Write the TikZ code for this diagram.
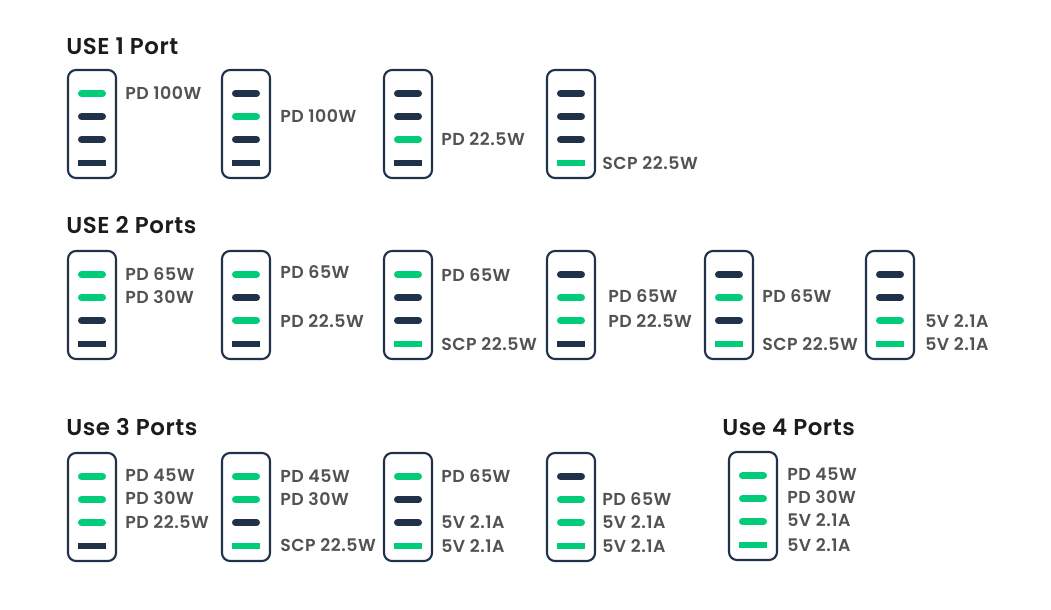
\documentclass[tikz,border=0pt]{standalone}
\usepackage{fontspec}
\setmainfont{Poppins}[BoldFont={* SemiBold}]
\definecolor{navy}{HTML}{1F3249}
\definecolor{grn}{HTML}{00CC7A}
\definecolor{lbl}{HTML}{525252}
\definecolor{ttl}{HTML}{1C1C1C}
\tikzset{
  box/.style={draw=navy,line width=1.6pt,rounded corners=6pt,minimum width=36pt,minimum height=81pt,inner sep=0pt},
  pill/.style={fill=#1,rounded corners=2.6pt,minimum width=21pt,minimum height=5.2pt,inner sep=0pt},
  slot/.style={fill=#1,minimum width=21pt,minimum height=5.2pt,inner sep=0pt},
  lab/.style={anchor=west,inner sep=0pt,text=lbl,font=\bfseries\addfontfeatures{LetterSpace=3}\fontsize{13pt}{15pt}\selectfont},
  ttlst/.style={anchor=west,inner sep=0pt,text=ttl,font=\bfseries\addfontfeatures{LetterSpace=2.5}\fontsize{17.2pt}{20pt}\selectfont},
}
% name, left x, top y, colours of bars 1..4
\newcommand{\chg}[7]{%
  \node[box] (#1) at (#2+24,#3+54) {};
  \node[pill=#4] (#1-1) at (#2+24,#3+23.5) {};
  \node[pill=#5] (#1-2) at (#2+24,#3+46.5) {};
  \node[pill=#6] (#1-3) at (#2+24,#3+69.5) {};
  \node[slot=#7] (#1-4) at (#2+24,#3+93) {};
}
\begin{document}
\begin{tikzpicture}[x=0.75pt,y=-0.75pt]
\useasboundingbox (0,0) rectangle (1051,610);
% titles
\node[ttlst] (t1) at (66,46) {USE 1 Port};
\node[ttlst] (t2) at (66,225) {USE 2 Ports};
\node[ttlst] (t3) at (66,427) {Use 3 Ports};
\node[ttlst] (t4) at (722,427) {Use 4 Ports};
% row 1
\chg{a}{68}{70}{grn}{navy}{navy}{navy}
\node[lab] (a-l1) at (125,93.5) {PD 100W};
\chg{b}{222}{70}{navy}{grn}{navy}{navy}
\node[lab] (b-l2) at (280,116.5) {PD 100W};
\chg{c}{384}{70}{navy}{navy}{grn}{navy}
\node[lab] (c-l3) at (441,139.5) {PD 22.5W};
\chg{d}{547}{70}{navy}{navy}{navy}{grn}
\node[lab] (d-l4) at (602,163) {SCP 22.5W};
% row 2
\chg{e}{68}{251}{grn}{grn}{navy}{navy}
\node[lab] (e-l1) at (125,274.5) {PD 65W};
\node[lab] (e-l2) at (125,297.5) {PD 30W};
\chg{f}{222}{251}{grn}{navy}{grn}{navy}
\node[lab] (f-l1) at (280,272.5) {PD 65W};
\node[lab] (f-l3) at (280,321.5) {PD 22.5W};
\chg{g}{384}{251}{grn}{navy}{navy}{grn}
\node[lab] (g-l1) at (441,275.5) {PD 65W};
\node[lab] (g-l4) at (441,344) {SCP 22.5W};
\chg{h}{547}{251}{navy}{grn}{grn}{navy}
\node[lab] (h-l2) at (608,296) {PD 65W};
\node[lab] (h-l3) at (608,321) {PD 22.5W};
\chg{i}{705}{251}{navy}{grn}{navy}{grn}
\node[lab] (i-l2) at (762,296) {PD 65W};
\node[lab] (i-l4) at (762,344) {SCP 22.5W};
\chg{j}{866}{251}{navy}{navy}{grn}{grn}
\node[lab] (j-l3) at (925,321) {5V 2.1A};
\node[lab] (j-l4) at (925,344) {5V 2.1A};
% row 3
\chg{k}{68}{453}{grn}{grn}{grn}{navy}
\node[lab] (k-l1) at (125,475.5) {PD 45W};
\node[lab] (k-l2) at (125,498.5) {PD 30W};
\node[lab] (k-l3) at (125,522.5) {PD 22.5W};
\chg{l}{222}{453}{grn}{grn}{navy}{grn}
\node[lab] (l-l1) at (280,476.5) {PD 45W};
\node[lab] (l-l2) at (280,499.5) {PD 30W};
\node[lab] (l-l4) at (280,545) {SCP 22.5W};
\chg{m}{384}{453}{grn}{navy}{navy}{grn}
\node[lab] (m-l1) at (441,476.5) {PD 65W};
\node[lab] (m-l3) at (441,522.5) {5V 2.1A};
\node[lab] (m-l4) at (441,546) {5V 2.1A};
\chg{n}{547}{453}{navy}{grn}{grn}{grn}
\node[lab] (n-l2) at (602,499.5) {PD 65W};
\node[lab] (n-l3) at (602,522.5) {5V 2.1A};
\node[lab] (n-l4) at (602,546) {5V 2.1A};
% use 4
\chg{o}{729}{452}{grn}{grn}{grn}{grn}
\node[lab] (o-l1) at (787,474.5) {PD 45W};
\node[lab] (o-l2) at (787,497.5) {PD 30W};
\node[lab] (o-l3) at (787,520.5) {5V 2.1A};
\node[lab] (o-l4) at (787,545) {5V 2.1A};
\end{tikzpicture}
\end{document}
